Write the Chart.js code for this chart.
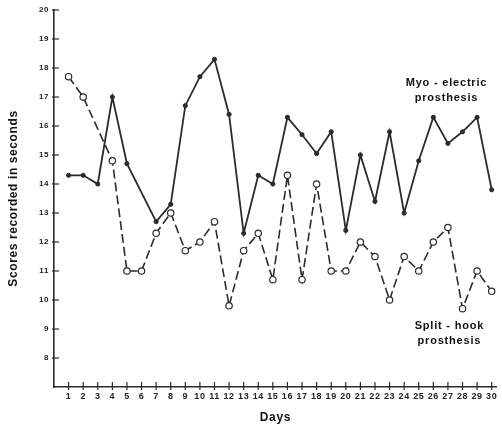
<!DOCTYPE html>
<html>
<head>
<meta charset="utf-8">
<script src="https://cdn.jsdelivr.net/npm/chart.js@4"></script>
<style>
  html, body { margin: 0; padding: 0; background: #fff; }
</style>
</head>
<body>
<canvas id="newChart" width="502" height="426"></canvas>
<script>
const days = [1, 2, 3, 4, 5, 6, 7, 8, 9, 10, 11, 12, 13, 14, 15, 16, 17, 18, 19, 20, 21, 22, 23, 24, 25, 26, 27, 28, 29, 30];
// null = no marker drawn on that day, line just runs through
const myoScores = [14.3, 14.3, 14.0, 17.0, 14.7, null, 12.7, 13.3, 16.7, 17.7, 18.3, 16.4, 12.3, 14.3, 14.0, 16.3, 15.7, 15.05, 15.8, 12.4, 15.0, 13.4, 15.8, 13.0, 14.8, 16.3, 15.4, 15.8, 16.3, 13.8];
const hookScores = [17.7, 17.0, null, 14.8, 11.0, 11.0, 12.3, 13.0, 11.7, 12.0, 12.7, 9.8, 11.7, 12.3, 10.7, 14.3, 10.7, 14.0, 11.0, 11.0, 12.0, 11.5, 10.0, 11.5, 11.0, 12.0, 12.5, 9.7, 11.0, 10.3];
const yTicks = [8, 9, 10, 11, 12, 13, 14, 15, 16, 17, 18, 19, 20];
const labels = [
    { text: "Myo - electric", x: 26.9, y: 17.5 },
    { text: "prosthesis", x: 26.9, y: 16.98 },
    { text: "Split - hook", x: 27.1, y: 9.12 },
    { text: "prosthesis", x: 27.1, y: 8.6 },
];

const ink = "#2b2b2b";
const fontName = "'Liberation Sans', Arial, sans-serif";

let ctx = document.getElementById("newChart");

// old print look: slightly spaced lettering everywhere
const spacing = {
    id: "spacing",
    beforeDraw(chart) {
        chart.ctx.letterSpacing = "0.6px";
    },
};

const tickMarks = {
    id: "tickMarks",
    afterDraw(chart) {
        const { ctx, scales, chartArea } = chart;
        const { x, y } = scales;
        ctx.save();
        ctx.strokeStyle = ink;
        ctx.lineWidth = 1.2;
        // x ticks cross the axis
        days.forEach((d) => {
            const px = x.getPixelForValue(d);
            ctx.beginPath();
            ctx.moveTo(px, chartArea.bottom - 5);
            ctx.lineTo(px, chartArea.bottom + 3);
            ctx.stroke();
        });
        // y ticks point inward
        yTicks.forEach((v) => {
            const py = y.getPixelForValue(v);
            ctx.beginPath();
            ctx.moveTo(chartArea.left - 2, py);
            ctx.lineTo(chartArea.left + 5, py);
            ctx.stroke();
        });
        // curve names
        ctx.fillStyle = "#111";
        ctx.font = "bold 11px " + fontName;
        ctx.letterSpacing = "0.8px";
        ctx.textAlign = "center";
        ctx.textBaseline = "middle";
        labels.forEach((l) => {
            ctx.fillText(l.text, x.getPixelForValue(l.x), y.getPixelForValue(l.y));
        });
        ctx.restore();
    },
};

const displayChart = new Chart(ctx, {
    type: "line",
    data: {
        datasets: [
            {
                label: "Myo-electric prosthesis",
                data: days.map((d, i) => ({ x: d, y: myoScores[i] })),
                borderColor: ink,
                borderWidth: 1.8,
                backgroundColor: ink,
                pointRadius: 2.1,
                pointBorderWidth: 1,
                spanGaps: true,
                tension: 0,
            },
            {
                label: "Split-hook prosthesis",
                data: days.map((d, i) => ({ x: d, y: hookScores[i] })),
                borderColor: ink,
                borderWidth: 1.6,
                borderDash: [9, 4],
                backgroundColor: "#fff",
                pointRadius: 3.2,
                pointBorderWidth: 1.2,
                pointBorderColor: ink,
                spanGaps: true,
                tension: 0,
            },
        ],
    },
    options: {
        responsive: false,
        animation: false,
        layout: {
            padding: { top: 10, right: 1, left: 0, bottom: 0 },
        },
        scales: {
            x: {
                type: "linear",
                min: 0,
                max: 30.35,
                afterFit: (scale) => { scale.height = 39; },
                afterBuildTicks: (scale) => {
                    scale.ticks = days.map((d) => ({ value: d }));
                },
                grid: { display: false, drawTicks: false },
                border: { display: true, color: ink, width: 1.6 },
                ticks: {
                    padding: 4,
                    color: "#222",
                    font: { family: fontName, size: 9, weight: "bold" },
                    maxRotation: 0,
                    autoSkip: false,
                },
                title: {
                    display: true,
                    text: "Days",
                    color: "#111",
                    font: { family: fontName, size: 12, weight: "bold" },
                    padding: { top: 4, bottom: 1 },
                },
            },
            y: {
                min: 7,
                max: 20,
                afterFit: (scale) => { scale.width = 54; },
                afterBuildTicks: (scale) => {
                    scale.ticks = yTicks.map((v) => ({ value: v }));
                },
                grid: { display: false, drawTicks: false },
                border: { display: true, color: ink, width: 1.6 },
                ticks: {
                    padding: 5,
                    color: "#222",
                    font: { family: fontName, size: 8, weight: "bold" },
                },
                title: {
                    display: true,
                    text: "Scores recorded in seconds",
                    color: "#111",
                    font: { family: fontName, size: 12, weight: "bold" },
                    padding: { top: 6, bottom: 4 },
                },
            },
        },
        plugins: {
            legend: { display: false },
            tooltip: { enabled: false },
        },
    },
    plugins: [spacing, tickMarks],
});
</script>
</body>
</html>
